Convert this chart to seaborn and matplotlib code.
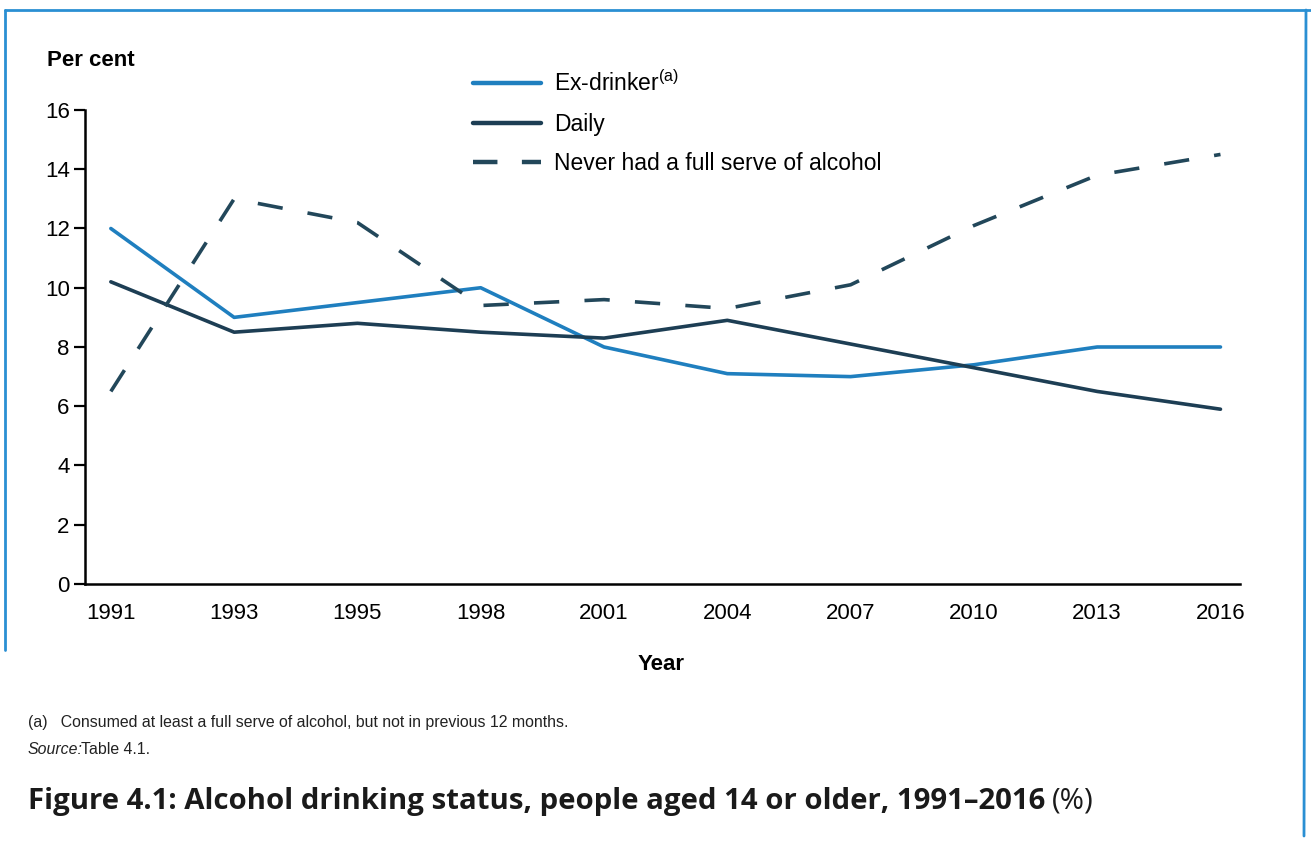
import matplotlib
matplotlib.use("Agg")
import pandas as pd
import matplotlib.pyplot as plt
import seaborn as sns
from matplotlib.lines import Line2D

sns.set_style("white")
plt.rcParams['font.family'] = ['Liberation Sans', 'DejaVu Sans']
plt.rcParams['mathtext.fontset'] = 'custom'
plt.rcParams['mathtext.rm'] = 'Liberation Sans'
plt.rcParams['text.color'] = 'black'
plt.rcParams['xtick.color'] = 'black'
plt.rcParams['ytick.color'] = 'black'

# data
years = ["1991", "1993", "1995", "1998", "2001", "2004", "2007", "2010", "2013", "2016"]
ex_drinker = [12.0, 9.0, 9.5, 10.0, 8.0, 7.1, 7.0, 7.4, 8.0, 8.0]
daily = [10.2, 8.5, 8.8, 8.5, 8.3, 8.9, 8.1, 7.3, 6.5, 5.9]
never = [6.5, 13.0, 12.2, 9.4, 9.6, 9.3, 10.1, 12.1, 13.8, 14.5]
yticks = [0, 2, 4, 6, 8, 10, 12, 14, 16]

names = ["Ex-drinker", "Daily", "Never had a full serve of alcohol"]
df = pd.DataFrame({"Year": years * 3,
                   "Status": [n for n in names for _ in years],
                   "Value": ex_drinker + daily + never})
df["x"] = list(range(len(years))) * 3

colors = {"Ex-drinker": "#1f7fbf", "Daily": "#1d3e54",
          "Never had a full serve of alcohol": "#22475a"}
dashes = {"Ex-drinker": "", "Daily": "",
          "Never had a full serve of alcohol": (7.0, 7.0)}

fig = plt.figure(figsize=(13.11, 8.41), dpi=100)
ax = fig.add_axes([0.0648, 0.3056, 0.8812, 0.5636])

sns.lineplot(data=df, x="x", y="Value", hue="Status", style="Status",
             palette=colors, dashes=dashes, linewidth=2.6, ax=ax, legend=False)

ax.set_xlim(-0.21, 9.16)
ax.set_ylim(0, 16)
ax.set_yticks(yticks)
ax.set_xticks(range(len(years)))
ax.set_xticklabels(years)
ax.tick_params(axis="y", direction="out", length=8, width=1.6, color="black",
               labelsize=16, pad=3, left=True)
ax.tick_params(axis="x", length=0, labelsize=16, pad=14)
sns.despine(ax=ax)
for s in ["left", "bottom"]:
    ax.spines[s].set_linewidth(1.8)
    ax.spines[s].set_color("black")
ax.set_xlabel("")
ax.set_ylabel("")

fig.text(47 / 1311, 1 - 60 / 841, "Per cent", fontsize=16, fontweight="bold",
         va="center", ha="left")
fig.text(661 / 1311, 1 - 664 / 841, "Year", fontsize=16, fontweight="bold",
         va="center", ha="center")

handles = [Line2D([], [], color=colors[n], linewidth=3.2,
                  linestyle=(0, (5.5, 5.5)) if n.startswith("Never") else "-")
           for n in names]
labels = ["Ex-drinker$^{\\mathrm{(a)}}$", "Daily", names[2]]
fig.legend(handles, labels, loc="upper left",
           bbox_to_anchor=(452 / 1311, 1 - 50 / 841), frameon=False,
           fontsize=16.5, handlelength=3.0, handletextpad=0.55, labelspacing=0.72)

fig.text(28 / 1311, 1 - 722 / 841,
         "(a)   Consumed at least a full serve of alcohol, but not in previous 12 months.",
         fontsize=11.4, va="center", ha="left", color="#222222")
fig.text(28 / 1311, 1 - 750 / 841, "Source:", fontsize=11.4, style="italic",
         va="center", ha="left", color="#222222")
fig.text(81 / 1311, 1 - 750 / 841, "Table 4.1.", fontsize=11.4,
         va="center", ha="left", color="#222222")

title = fig.text(28 / 1311, 1 - 801 / 841,
                 "Figure 4.1: Alcohol drinking status, people aged 14 or older, 1991\u20132016",
                 fontsize=21.2, fontweight="bold", va="center", ha="left",
                 family=["Open Sans", "DejaVu Sans"], color="#1a1a1a")
fig.canvas.draw()
bb = title.get_window_extent()
fig.text((bb.x1 + 7) / 1311, 1 - 801 / 841, "(%)", fontsize=21.2,
         va="center", ha="left", family=["Open Sans", "DejaVu Sans"], color="#1a1a1a")

# blue frame around the figure
frame = "#2a8fd3"
fig.add_artist(Line2D([5 / 1311, 1], [1 - 10 / 841, 1 - 10 / 841],
                      transform=fig.transFigure, color=frame, linewidth=2))
fig.add_artist(Line2D([5 / 1311, 5 / 1311], [1 - 10 / 841, 1 - 650 / 841],
                      transform=fig.transFigure, color=frame, linewidth=2))
fig.add_artist(Line2D([1306 / 1311, 1304 / 1311], [1 - 10 / 841, 1 - 836 / 841],
                      transform=fig.transFigure, color=frame, linewidth=2))

fig.savefig("out.png", dpi=100)
